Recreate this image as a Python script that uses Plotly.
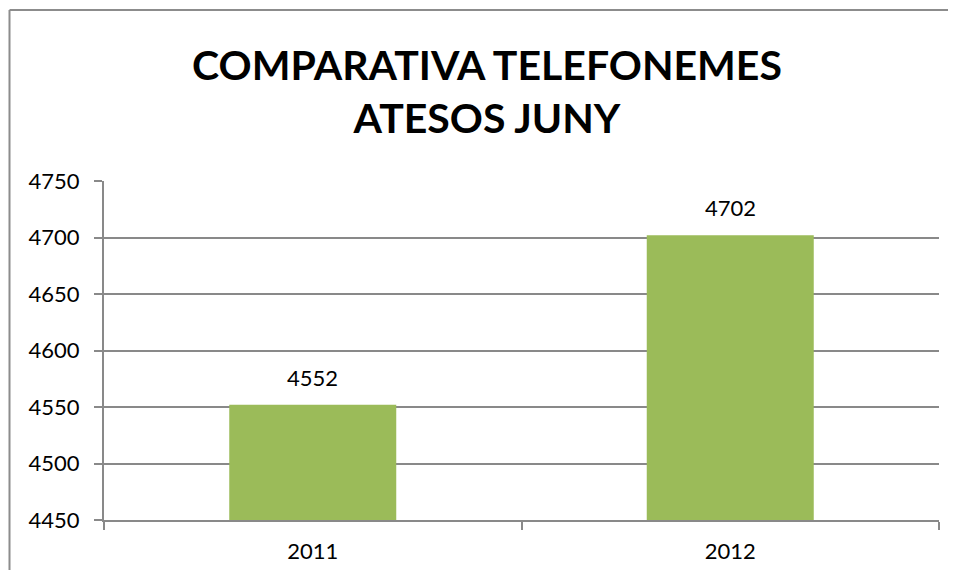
import plotly.graph_objects as go

years = ["2011", "2012"]
calls = [4552, 4702]
title_lines = ["COMPARATIVA TELEFONEMES", "ATESOS JUNY"]
y_ticks = [4450, 4500, 4550, 4600, 4650, 4700, 4750]

GRAY = "#898989"
FONT = "Lato"

# page body has an 8px margin, so the figure starts at (8, 8)
W, H = 940, 562
L, R, T, B = 96, 9, 173, 50
PW, PH = W - L - R, H - T - B

fig = go.Figure(go.Bar(
    x=years, y=calls, width=0.4,
    marker=dict(color="#9BBB59", line=dict(width=0)),
    hoverinfo="x+y",
))

annotations = [
    dict(x=i, y=yv, xref="x", yref="y", text=str(yv), showarrow=False,
         yanchor="bottom", yshift=12,
         font=dict(family=FONT, size=22, color="black"))
    for i, yv in enumerate(calls)
]

bx0 = (9.5 - 104) / PW
by1 = (520 - 10) / PH
border = dict(color="#8c8c8c", width=2)

fig.update_layout(
    width=W, height=H,
    margin=dict(l=L, r=R, t=T, b=B, pad=0, autoexpand=False),
    paper_bgcolor="white", plot_bgcolor="white",
    showlegend=False,
    title=dict(
        text="<b>" + "<br>".join(title_lines) + "</b>",
        x=(487 - 8) / W, xanchor="center", y=1 - 72 / H, yanchor="top",
        font=dict(family=FONT, size=41, color="black"),
    ),
    annotations=annotations,
    xaxis=dict(
        type="category", range=[-0.5, len(years) - 0.5], automargin=False,
        showline=True, linecolor=GRAY, linewidth=2, tickangle=0,
        ticks="outside", tickson="boundaries", ticklen=8, tickwidth=2, tickcolor=GRAY,
        tickfont=dict(family=FONT, size=22, color="black"),
        ticklabelstandoff=11,
        showgrid=False,
    ),
    yaxis=dict(
        range=[4450, 4750], tickvals=y_ticks, automargin=False,
        showline=True, linecolor=GRAY, linewidth=2,
        ticks="outside", ticklen=8, tickwidth=2, tickcolor=GRAY,
        tickfont=dict(family=FONT, size=22, color="black"),
        ticklabelstandoff=10,
        showgrid=True, gridcolor=GRAY, gridwidth=2, zeroline=False,
    ),
    shapes=[
        dict(type="line", xref="paper", yref="paper",
             x0=bx0, x1=1.1, y0=by1, y1=by1, line=border, layer="below"),
        dict(type="line", xref="paper", yref="paper",
             x0=bx0, x1=bx0, y0=-0.3, y1=by1, line=border, layer="below"),
    ],
)

fig.write_html("out.html")
